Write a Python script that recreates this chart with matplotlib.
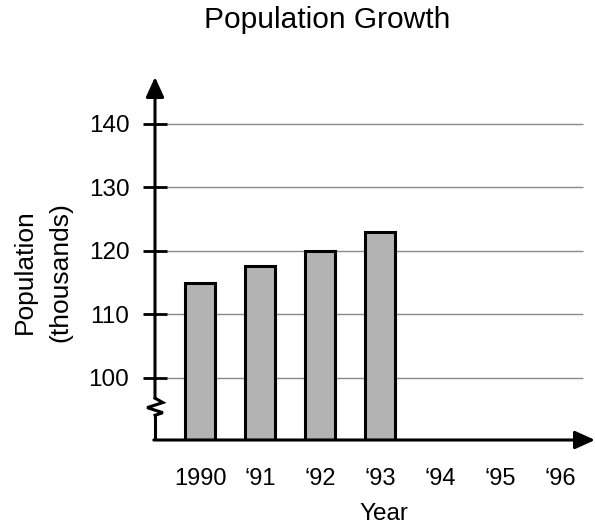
import matplotlib.pyplot as plt
import numpy as np

years = ['1990', "\u201891", "\u201892", "\u201893", "\u201894", "\u201895", "\u201896"]
population = [115.0, 117.6, 120.0, 123.0]
yticks = [100, 110, 120, 130, 140]

plt.rcParams['font.family'] = ['Liberation Sans', 'DejaVu Sans']

fig = plt.figure(figsize=(5.95, 5.31), dpi=100)
ax = fig.add_axes([155 / 595, 1 - 440 / 531, 440 / 595, 363 / 531])

x0, x1 = -0.75, 6.58
y0, y1 = 90.2, 147.4
ax.set_xlim(x0, x1)
ax.set_ylim(y0, y1)
for s in ax.spines.values():
    s.set_visible(False)

# grid lines
ax.hlines(yticks, x0, 6.38, color='#8a8a8a', lw=1, zorder=1)

# bars (axis is broken, so bars start at the bottom of the view)
xs = np.arange(len(population))
heights = np.array(population) - y0
ax.bar(xs, heights, width=0.5, bottom=y0, color='#b3b3b3',
       edgecolor='black', lw=2.2, zorder=3)
ax.set_xticks(np.arange(len(years)))
ax.set_xticklabels(years, fontsize=17)
ax.tick_params(axis='x', length=0, pad=20)

ax.set_yticks(yticks)
ax.set_yticklabels([str(t) for t in yticks], fontsize=17.5)
ax.tick_params(axis='y', direction='inout', length=17, width=2, pad=10)

# axes with arrows
kw = dict(arrowstyle='-|>,head_length=0.55,head_width=0.25', color='black',
          lw=2.2, mutation_scale=22, shrinkA=0, shrinkB=0)
ax.annotate('', xy=(x0, y1), xytext=(x0, 96.8), arrowprops=kw,
            annotation_clip=False)
ax.annotate('', xy=(x1, y0), xytext=(x0 - 0.02, y0), arrowprops=kw,
            annotation_clip=False)
ax.plot([x0, x0], [y0, 94.1], color='black', lw=2.2, clip_on=False,
        solid_capstyle='butt')
# axis break
zx = [x0, x0 + 0.13, x0 - 0.13, x0 + 0.13, x0]
zy = [96.8, 96.1, 95.3, 94.5, 94.1]
ax.plot(zx, zy, color='black', lw=2.2, clip_on=False, solid_joinstyle='miter')

fig.text(327 / 595, 1 - 20 / 531, 'Population Growth', fontsize=21.5,
         ha='center', va='center')
fig.text(384 / 595, 1 - 514 / 531, 'Year', fontsize=17.5, ha='center',
         va='center')
fig.text(43 / 595, 1 - 272 / 531, 'Population\n(thousands)', fontsize=19,
         ha='center', va='center', rotation=90, linespacing=1.6)

fig.savefig('out.png', dpi=100)
